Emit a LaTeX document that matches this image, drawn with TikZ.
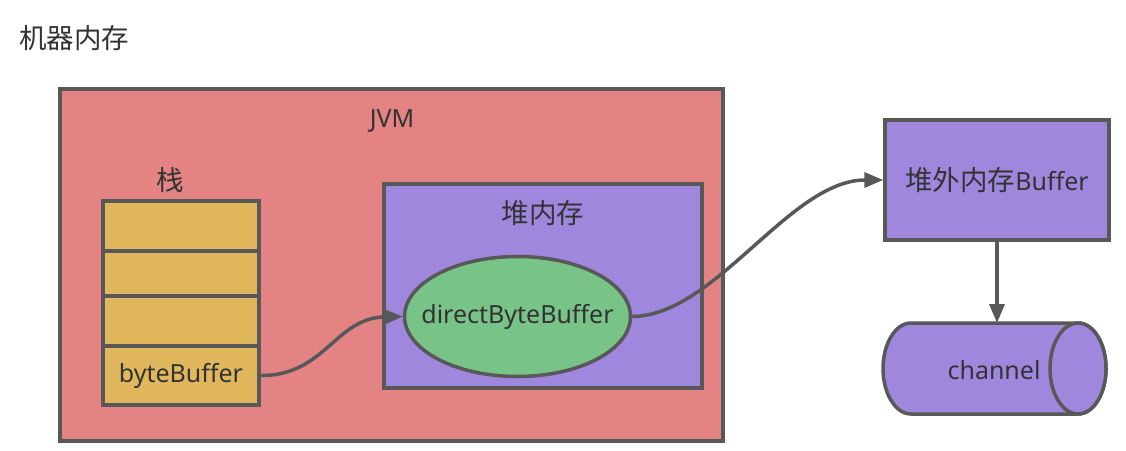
\documentclass[tikz,border=0pt]{standalone}
\usepackage{fontspec}
\setmainfont{Noto Sans}
\newfontfamily\cjk[Scale=1.1]{Noto Sans CJK SC}
\usetikzlibrary{arrows.meta,shapes.geometric}
\definecolor{edgegray}{RGB}{88,88,88}
\definecolor{txt}{RGB}{51,51,51}
\definecolor{jvmred}{RGB}{227,131,131}
\definecolor{heappurple}{RGB}{160,135,222}
\definecolor{dbbgreen}{RGB}{120,195,135}
\definecolor{stackyellow}{RGB}{224,183,92}
\begin{document}
\begin{tikzpicture}[x=1pt,y=-1pt,
  every node/.style={text=txt,font=\fontsize{25}{30}\selectfont},
  box/.style={draw=edgegray,line width=3.5pt,inner sep=0pt,rectangle},
  cell/.style={box,fill=stackyellow,minimum width=156pt},
  conn/.style={draw=edgegray,line width=3.5pt,-{Triangle[length=19pt,width=15pt]}},
  lbl/.style={inner sep=0pt}]
\useasboundingbox (0,0) rectangle (1126,450);
% title
\node[lbl] (title) at (74,38) {\cjk 机器内存};
% JVM
\node[box,fill=jvmred,minimum width=663pt,minimum height=352pt] (jvm) at (391.5,265) {};
\node[lbl] (jvmlabel) at (392,121) {JVM};
% stack
\node[lbl] (stacklabel) at (170,180) {\cjk 栈};
\node[cell,minimum height=50pt] (c1) at (181,226) {};
\node[cell,minimum height=45pt] (c2) at (181,273.5) {};
\node[cell,minimum height=50pt] (c3) at (181,321) {};
\node[cell,minimum height=59pt] (c4) at (181,375.5) {byteBuffer};
% heap
\node[box,fill=heappurple,minimum width=318pt,minimum height=204pt] (heap) at (543,286) {};
\node[lbl] (heaplabel) at (543,213) {\cjk 堆内存};
\node[draw=edgegray,line width=3.5pt,fill=dbbgreen,ellipse,inner sep=0pt,minimum width=226pt,minimum height=120pt] (dbb) at (517.5,316.5) {};
\node[lbl] (dbblabel) at (dbb.center) {directByteBuffer};
% off-heap
\node[box,fill=heappurple,minimum width=224pt,minimum height=120pt] (offheap) at (997,180) {{\cjk 堆外内存}Buffer};
% channel cylinder
\draw[edgegray,line width=3.5pt,fill=heappurple]
  (911,323) -- (1078,323) arc (90:-90:28pt and 45.5pt) -- (911,414) arc (-90:-270:28pt and 45.5pt) -- cycle;
\draw[edgegray,line width=3.5pt,fill=heappurple] (1078,368.5) ellipse (28pt and 45.5pt);
\coordinate (chtop) at (997,323);
\node[lbl] (channel) at (994,370) {channel};
% connectors
\draw[conn] (c4.east) .. controls (325,376) and (335,318) .. (dbb.west);
\draw[conn] (dbb.east) .. controls (715,316) and (790,180) .. (offheap.west);
\draw[conn] (offheap.south) -- (chtop);
\end{tikzpicture}
\end{document}
